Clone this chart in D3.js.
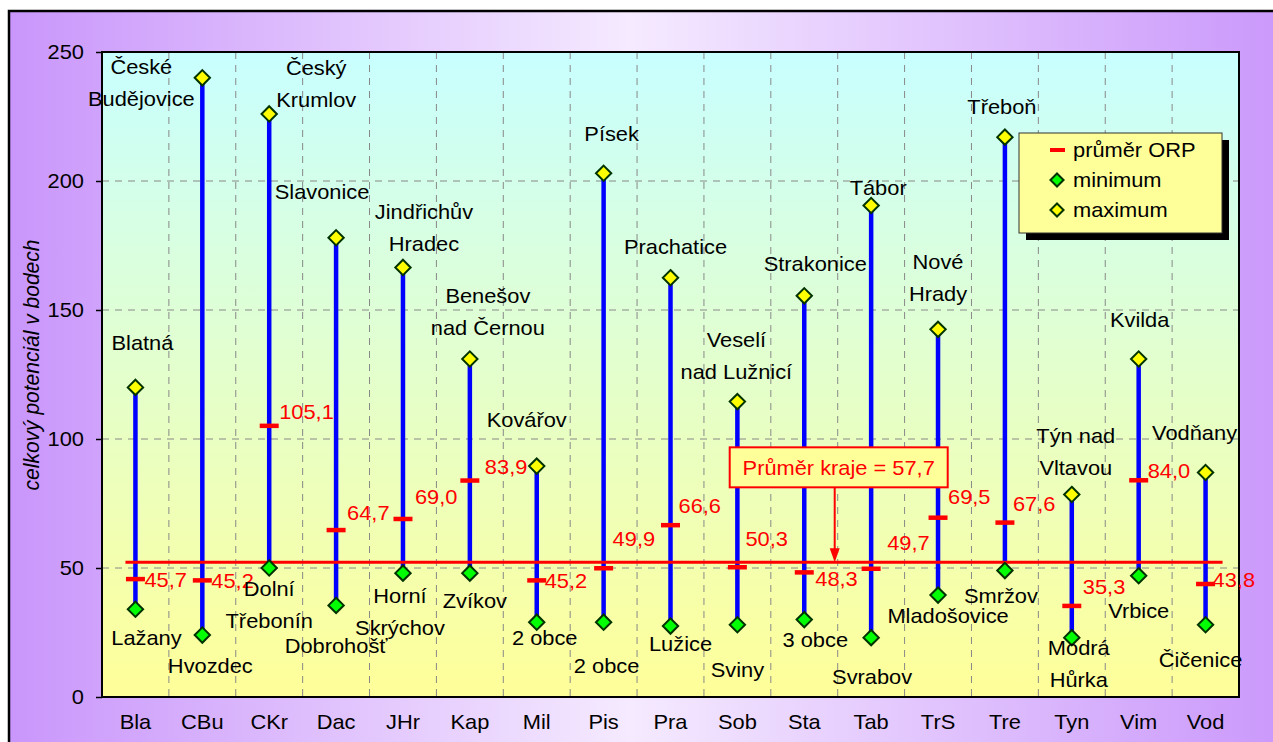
<!DOCTYPE html>
<html>
<head>
<meta charset="utf-8">
<script src="https://cdn.jsdelivr.net/npm/d3@7"></script>
<style>
  body { margin: 0; background: #fff; }
  svg text { font-family: "Liberation Sans", Arial, sans-serif; }
</style>
</head>
<body>
<div id="chart"></div>
<script>
// kategorie (ORP) a hodnoty
const categories = ["Bla", "CBu", "CKr", "Dac", "JHr", "Kap", "Mil", "Pis", "Pra", "Sob", "Sta", "Tab", "TrS", "Tre", "Tyn", "Vim", "Vod"];
const minValues  = [34, 24, 50, 35.5, 48, 48, 29, 29, 27.5, 28, 30, 23, 39.5, 49, 23, 47, 28];
const maxValues  = [120, 240, 226, 178, 166.5, 131, 89.5, 203, 162.5, 114.5, 155.5, 190.5, 142.5, 217, 78.5, 131, 87];
const meanValues = [45.7, 45.2, 105.1, 64.7, 69.0, 83.9, 45.2, 49.9, 66.6, 50.3, 48.3, 49.7, 69.5, 67.6, 35.3, 84.0, 43.8];
const maxNames = [["Blatná"], ["České", "Budějovice"], ["Český", "Krumlov"], ["Slavonice"], ["Jindřichův", "Hradec"],
  ["Benešov", "nad Černou"], ["Kovářov"], ["Písek"], ["Prachatice"], ["Veselí", "nad Lužnicí"], ["Strakonice"],
  ["Tábor"], ["Nové", "Hrady"], ["Třeboň"], ["Týn nad", "Vltavou"], ["Kvilda"], ["Vodňany"]];
const minNames = [["Lažany"], ["Hvozdec"], ["Dolní", "Třebonín"], ["Dobrohošť"], ["Horní", "Skrýchov"], ["Zvíkov"],
  ["2 obce"], ["2 obce"], ["Lužice"], ["Sviny"], ["3 obce"], ["Svrabov"], ["Mladošovice"], ["Smržov"],
  ["Modrá", "Hůrka"], ["Vrbice"], ["Čičenice"]];
const yTicks = [0, 50, 100, 150, 200, 250];
const regionLine = 52.2;          // poloha čáry průměru kraje v grafu
const regionLabel = "Průměr kraje = 57,7";
const legendItems = ["průměr ORP", "minimum", "maximum"];

// umístění popisků (posun v px od značky)
const maxLabelShift = [[7, -45], [-61, -11], [47, -46], [-14, -46], [21, -56], [18, -63], [-10, -46], [8, -40], [5, -31],
  [-1, -62], [11, -32], [7, -18], [0, -68], [-3, -30], [4, -59], [1, -39], [-11, -40]];
const minLabelShift = [[11, 28], [8, 31], [0, 21], [0, 40], [-3, 22], [5, 27], [8, 15], [3, 43], [10, 18],
  [0, 45], [11, 20], [1, 39], [10, 21], [-4, 25], [7, 10], [0, 35], [-5, 35]];
const meanLabelShift = [[9, 1], [9, 0], [10, -14], [11, -17], [12, -22], [15, -14], [8, 0], [9, -30], [8, -20],
  [8, -29], [11, 6], [16, -26], [10, -21], [8, -19], [11, -19], [9, -10], [7, -4]];

const W = 1273, H = 742;
const margin = { top: 52, left: 102, right: 34, bottom: 45 };
const width = W - margin.left - margin.right,
      height = H - margin.top - margin.bottom;
const FS = 21, SX = 1.04;

const svg = d3.select("#chart").append("svg").attr("width", W).attr("height", H);
const defs = svg.append("defs");

const outerGrad = defs.append("linearGradient").attr("id", "outerGrad");
outerGrad.append("stop").attr("offset", "0%").attr("stop-color", "#c996fb");
outerGrad.append("stop").attr("offset", "48%").attr("stop-color", "#f5eaff");
outerGrad.append("stop").attr("offset", "100%").attr("stop-color", "#c996fb");

const plotGrad = defs.append("linearGradient").attr("id", "plotGrad")
  .attr("x1", 0).attr("y1", 0).attr("x2", 0).attr("y2", 1);
plotGrad.append("stop").attr("offset", "0%").attr("stop-color", "#c8ffff");
plotGrad.append("stop").attr("offset", "100%").attr("stop-color", "#ffff99");

// pozadí
svg.append("rect").attr("x", 9).attr("y", 11).attr("width", W + 20).attr("height", H + 20)
  .attr("fill", "url(#outerGrad)").attr("stroke", "#000").attr("stroke-width", 2.5);

// text lehce roztažený do šířky jako v Excelu
function label(parent, x, y, str, anchor, color, opts) {
  opts = opts || {};
  return parent.append("text")
    .attr("transform", `translate(${x},${y}) scale(${SX},1)` + (opts.rotate ? ` rotate(${opts.rotate})` : ""))
    .attr("text-anchor", anchor)
    .attr("dy", "0.35em")
    .attr("font-size", opts.size || FS)
    .attr("font-style", opts.italic ? "italic" : "normal")
    .attr("fill", color)
    .text(str);
}

const g = svg.append("g").attr("transform", `translate(${margin.left},${margin.top})`);

const x = d3.scaleBand().domain(categories).range([0, width]);
const y = d3.scaleLinear().domain([0, 250]).range([height, 0]);
const cx = d => x(d) + x.bandwidth() / 2;

g.append("rect").attr("width", width).attr("height", height).attr("fill", "url(#plotGrad)");

// mřížka
g.selectAll(".hgrid").data(yTicks.filter(t => t > 0 && t < 250)).enter().append("line")
  .attr("x1", 0).attr("x2", width).attr("y1", d => y(d)).attr("y2", d => y(d))
  .attr("stroke", "#888").attr("stroke-dasharray", "7,6");
g.selectAll(".vgrid").data(categories.slice(1)).enter().append("line")
  .attr("x1", d => x(d)).attr("x2", d => x(d)).attr("y1", 0).attr("y2", height)
  .attr("stroke", "#888").attr("stroke-dasharray", "7,6");

// osy
const yAxis = g.append("g").call(d3.axisLeft(y).tickValues(yTicks).tickSize(6).tickFormat(""));
yAxis.select(".domain").remove();
yAxis.selectAll("line").attr("stroke", "#000").attr("stroke-width", 1.5);
yTicks.forEach(t => label(g, -18, y(t), t, "end", "#000"));
categories.forEach(c => label(g, cx(c), height + 25, c, "middle", "#000"));

label(svg, 31, 365, "celkový potenciál v bodech", "middle", "#000", { italic: true, rotate: -90 });

// svislé úsečky min-max
g.selectAll(".range").data(categories).enter().append("line")
  .attr("x1", cx).attr("x2", cx)
  .attr("y1", (d, i) => y(minValues[i])).attr("y2", (d, i) => y(maxValues[i]))
  .attr("stroke", "#0000ff").attr("stroke-width", 4.5);

// čára průměru kraje
g.append("line")
  .attr("x1", cx(categories[0]) - 10).attr("x2", cx(categories[categories.length - 1]) + 17)
  .attr("y1", y(regionLine)).attr("y2", y(regionLine))
  .attr("stroke", "#ff0000").attr("stroke-width", 3);

// průměry ORP
g.selectAll(".mean").data(categories).enter().append("line")
  .attr("x1", d => cx(d) - 9.5).attr("x2", d => cx(d) + 9.5)
  .attr("y1", (d, i) => y(meanValues[i])).attr("y2", (d, i) => y(meanValues[i]))
  .attr("stroke", "#ff0000").attr("stroke-width", 4.5);

const diamond = d3.symbol().type(d3.symbolDiamond2).size(150);
function drawMarkers(values, fill) {
  g.selectAll(null).data(categories).enter().append("path")
    .attr("d", diamond)
    .attr("transform", (d, i) => `translate(${cx(d)},${y(values[i])})`)
    .attr("fill", fill).attr("stroke", "#003300").attr("stroke-width", 2);
}
drawMarkers(minValues, "#00ff00");
drawMarkers(maxValues, "#ffff00");

// rámeček plochy grafu
g.append("rect").attr("width", width).attr("height", height)
  .attr("fill", "none").attr("stroke", "#000").attr("stroke-width", 2);

// popisky
const lineH = 32;
categories.forEach((c, i) => {
  const px = cx(c);
  maxNames[i].forEach((s, k) => label(g, px + maxLabelShift[i][0], y(maxValues[i]) + maxLabelShift[i][1] + k * lineH, s, "middle", "#000"));
  minNames[i].forEach((s, k) => label(g, px + minLabelShift[i][0], y(minValues[i]) + minLabelShift[i][1] + k * lineH, s, "middle", "#000"));
  label(g, px + meanLabelShift[i][0], y(meanValues[i]) + meanLabelShift[i][1],
    d3.format(".1f")(meanValues[i]).replace(".", ","), "start", "#ff0000");
});

// anotace průměru kraje
const ax = (cx("Sta") + cx("Tab")) / 2 - 3;
const boxY = y(regionLine) - 115;
g.append("rect").attr("x", ax - 105).attr("y", boxY).attr("width", 218).attr("height", 40)
  .attr("fill", "#ffff99").attr("stroke", "#ff0000").attr("stroke-width", 2);
label(g, ax + 4, boxY + 20, regionLabel, "middle", "#ff0000");
g.append("line").attr("x1", ax).attr("x2", ax).attr("y1", boxY + 40).attr("y2", y(regionLine) - 4)
  .attr("stroke", "#ff0000").attr("stroke-width", 2);
g.append("path")
  .attr("d", `M${ax - 5},${y(regionLine) - 14} L${ax + 5},${y(regionLine) - 14} L${ax},${y(regionLine)} Z`)
  .attr("fill", "#ff0000");

// legenda
const lg = svg.append("g").attr("transform", "translate(1019,133)");
lg.append("rect").attr("x", 7).attr("y", 7).attr("width", 203).attr("height", 100).attr("fill", "#000");
lg.append("rect").attr("width", 203).attr("height", 100).attr("fill", "#ffff99").attr("stroke", "#333").attr("stroke-width", 1);
legendItems.forEach((t, i) => {
  const ly = 17 + i * 30;
  if (i === 0) {
    lg.append("line").attr("x1", 31).attr("x2", 46).attr("y1", ly).attr("y2", ly)
      .attr("stroke", "#ff0000").attr("stroke-width", 4);
  } else {
    lg.append("path").attr("d", d3.symbol().type(d3.symbolDiamond2).size(110))
      .attr("transform", `translate(38,${ly})`)
      .attr("fill", i === 1 ? "#00ff00" : "#ffff00").attr("stroke", "#003300").attr("stroke-width", 2);
  }
  label(lg, 54, ly, t, "start", "#000");
});
</script>
</body>
</html>
